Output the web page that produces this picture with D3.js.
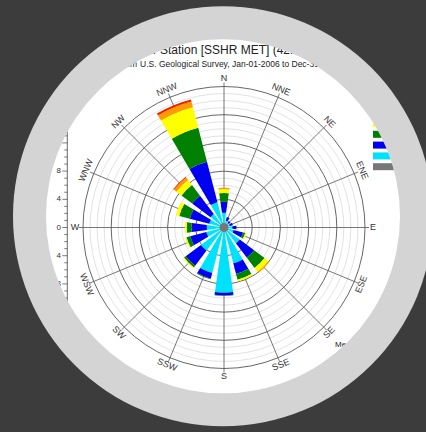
<!DOCTYPE html>
<html lang="en">
<head>
  <meta charset="UTF-8">
  <title>Wind Rose - SSHR MET</title>
  <script src="https://d3js.org/d3.v7.min.js"></script>
  <style>
    body {
      margin: 0;
      background: #3c3c3c;
    }

    svg {
      display: block;
      font-family: "Liberation Sans", Arial, sans-serif;
    }

    .dir-label {
      font-size: 9px;
      fill: #333;
      text-anchor: middle;
      dominant-baseline: middle;
    }

    .axis-label {
      font-size: 8px;
      fill: #333;
    }
  </style>
</head>
<body>

<svg width="426" height="432"></svg>

<script>
  // Directions and frequency (%) per wind speed class, stacked outward
  const directions = ["N", "NNE", "NE", "ENE", "E", "ESE", "SE", "SSE",
                      "S", "SSW", "SW", "WSW", "W", "WNW", "NW", "NNW"];

  const classColors = ["#00e1fb", "#0000f0", "#008000", "#ffff00", "#ff9a00", "#ee2200"];

  const cyanValues   = [2.1, 1.0, 0.85, 0.85, 1.2, 1.4, 2.8, 5.25, 9.25, 6.65, 4.1, 2.6, 2.45, 2.15, 2.4, 3.7];
  const blueValues   = [1.55, 0.55, 0.3, 0.45, 0.55, 1.4, 2.55, 1.55, 0.4, 0.85, 2.7, 2.35, 2.15, 2.85, 3.25, 5.95];
  const greenValues  = [1.25, 0, 0, 0, 0.05, 0.3, 1.85, 0.85, 0.05, 0.1, 0.3, 0.55, 0.7, 1.55, 1.9, 4.95];
  const yellowValues = [0.55, 0, 0, 0, 0, 0.2, 0.7, 0.25, 0, 0, 0.15, 0.2, 0.25, 0.5, 0.9, 3.0];
  const orangeValues = [0.2, 0, 0, 0, 0, 0, 0.2, 0, 0, 0, 0, 0, 0, 0, 0.45, 0.85];
  const redValues    = [0, 0, 0, 0, 0, 0, 0, 0, 0, 0, 0, 0, 0, 0, 0.1, 0.3];

  const axisTicks = [-20, -16, -12, -8, -4, 0, 4, 8, 12, 16, 20];

  const series = [cyanValues, blueValues, greenValues, yellowValues, orangeValues, redValues];

  const cx = 224, cy = 227.5;
  const maxR = 141;
  const svg = d3.select("svg");

  // outer light gray ring + white disc, the chart is clipped to the disc
  const disc = {x: 223, y: 216.3, r: 177};
  svg.append("circle").attr("cx", disc.x).attr("cy", disc.y).attr("r", 210).attr("fill", "#d4d4d4");
  svg.append("clipPath").attr("id", "disc")
    .append("circle").attr("cx", disc.x).attr("cy", disc.y).attr("r", disc.r);
  svg.append("circle").attr("cx", disc.x).attr("cy", disc.y).attr("r", disc.r).attr("fill", "#fff");

  const chart = svg.append("g").attr("clip-path", "url(#disc)");

  const r = d3.scaleLinear().domain([0, 20]).range([0, maxR]);
  const angle = d3.scalePoint().domain(directions).range([0, 360 - 22.5]);
  const rad = d => d * Math.PI / 180;

  const g = chart.append("g").attr("transform", `translate(${cx},${cy})`);

  // grid rings
  const rings = d3.range(1, 21);
  g.selectAll(".ring")
    .data(rings)
    .enter()
    .append("circle")
    .attr("r", d => r(d))
    .attr("fill", "none")
    .attr("stroke", d => d % 4 === 0 ? "#555" : "#d6d6d6")
    .attr("stroke-width", d => d % 4 === 0 ? 0.9 : 0.7);

  // spokes
  g.selectAll(".spoke")
    .data(directions)
    .enter()
    .append("line")
    .attr("x1", 0).attr("y1", 0)
    .attr("x2", d => (maxR + 4) * Math.sin(rad(angle(d))))
    .attr("y2", d => -(maxR + 4) * Math.cos(rad(angle(d))))
    .attr("stroke", "#555")
    .attr("stroke-width", 0.8);

  // stacked wedges
  const stacked = directions.map((d, i) => {
    let acc = 0;
    return series.map((s, k) => {
      const seg = {dir: d, k: k, r0: acc, r1: acc + s[i]};
      acc += s[i];
      return seg;
    });
  }).flat().filter(s => s.r1 > s.r0);

  const half = 8;
  const arc = d3.arc()
    .innerRadius(d => r(d.r0))
    .outerRadius(d => r(d.r1))
    .startAngle(d => rad(angle(d.dir) - half))
    .endAngle(d => rad(angle(d.dir) + half));

  g.selectAll(".wedge")
    .data(stacked)
    .enter()
    .append("path")
    .attr("d", arc)
    .attr("fill", d => classColors[d.k]);

  // calms
  g.append("circle").attr("r", 4.5).attr("fill", "#777");

  // direction labels
  g.selectAll(".dir-label")
    .data(directions)
    .enter()
    .append("text")
    .attr("class", "dir-label")
    .attr("transform", d => {
      const a = angle(d);
      const x = 149 * Math.sin(rad(a)), y = -149 * Math.cos(rad(a));
      let rot = a % 90 === 0 ? 0 : (a <= 90 ? a : (a < 270 ? a - 180 : a - 360));
      return `translate(${x},${y}) rotate(${rot})`;
    })
    .text(d => d);

  // titles
  chart.append("text").attr("x", 157).attr("y", 54).attr("text-anchor", "end")
    .attr("font-size", 12).attr("fill", "#222").text("Shelter Harbor Weather");
  chart.append("text").attr("x", 160).attr("y", 54)
    .attr("font-size", 12).attr("fill", "#222").text("Station [SSHR MET] (42.57N, 70.64W)");
  chart.append("text").attr("x", 137).attr("y", 66.5).attr("text-anchor", "end")
    .attr("font-size", 8.5).attr("fill", "#222").text("Data from");
  chart.append("text").attr("x", 140).attr("y", 66.5)
    .attr("font-size", 8.5).attr("fill", "#222").text("U.S. Geological Survey, Jan-01-2006 to Dec-31-2010");

  // left scale bar
  const y = d3.scaleLinear().domain([-20, 20]).range([cy + maxR, cy - maxR]);
  const axisX = 67.3;
  chart.append("line")
    .attr("x1", axisX).attr("x2", axisX)
    .attr("y1", y(20)).attr("y2", y(-20))
    .attr("stroke", "#444").attr("stroke-width", 0.8);
  chart.selectAll(".tick")
    .data(d3.range(-20, 21))
    .enter()
    .append("line")
    .attr("x1", d => axisX - (d % 4 === 0 ? 5 : 3))
    .attr("x2", axisX)
    .attr("y1", d => y(d)).attr("y2", d => y(d))
    .attr("stroke", "#444").attr("stroke-width", 0.7);
  chart.selectAll(".axis-label")
    .data(axisTicks)
    .enter()
    .append("text")
    .attr("class", "axis-label")
    .attr("x", 61)
    .attr("y", d => y(d))
    .attr("text-anchor", "end")
    .attr("dominant-baseline", "middle")
    .text(d => Math.abs(d));
  chart.append("text")
    .attr("transform", "translate(45,218) rotate(-90)")
    .attr("text-anchor", "middle")
    .attr("font-size", 8).attr("fill", "#333")
    .text("%");

  // legend swatches (only their left part falls inside the disc)
  const legendColors = classColors.slice().reverse().concat(["#777"]);
  chart.append("g")
    .attr("transform", "translate(373, 98.4)")
    .selectAll("rect")
    .data(legendColors)
    .enter()
    .append("rect")
    .attr("x", 0).attr("y", (d, i) => i * 10.8)
    .attr("width", 22).attr("height", 7)
    .attr("fill", d => d);

  // notes bottom right
  chart.append("text").attr("x", 335).attr("y", 347).attr("font-size", 8).attr("fill", "#222")
    .text("Mean Wind Speed: 4.12 m/s");
  chart.append("text").attr("x", 335).attr("y", 358).attr("font-size", 8).attr("fill", "#222")
    .text("Frequency of Calms: 1.75%");
</script>

</body>
</html>
